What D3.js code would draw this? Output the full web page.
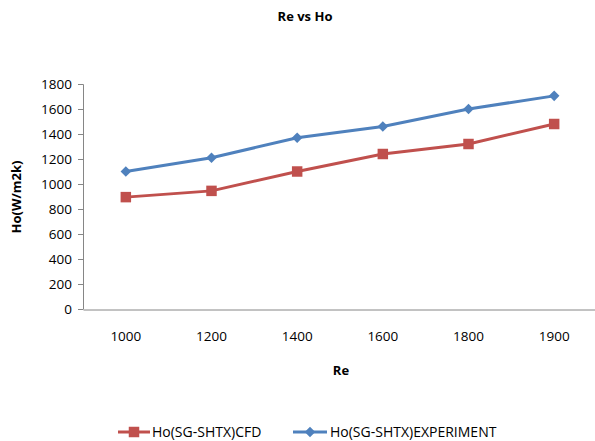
<!DOCTYPE html>
<html><head><meta charset="utf-8">
<script src="https://cdn.jsdelivr.net/npm/d3@7"></script>
<style>body{margin:0;background:#fff}svg{display:block}text{font-family:"Open Sans","Liberation Sans",Arial,sans-serif}</style>
</head><body>
<svg id="c" width="595" height="441"></svg>
<script>
const categories = ["1000","1200","1400","1600","1800","1900"];
const cfd = [895, 945, 1100, 1240, 1320, 1480];
const experiment = [1100, 1210, 1370, 1460, 1600, 1705];
const yTicks = [0,200,400,600,800,1000,1200,1400,1600,1800];
const seriesNames = ["Ho(SG-SHTX)CFD","Ho(SG-SHTX)EXPERIMENT"];

const svg = d3.select("#c");
const x = d3.scaleBand().domain(categories).range([83, 597]);
const y = d3.scaleLinear().domain([0,1800]).range([309, 84]);

// y axis
const ya = svg.append("g").attr("transform","translate(83,0)")
  .call(d3.axisLeft(y).tickValues(yTicks).tickFormat(d3.format("d")).tickSize(5).tickPadding(6));
ya.select(".domain").attr("stroke","#868686").attr("d","M-5,84.5H0.5V309.5");
ya.selectAll(".tick line").attr("stroke","#868686");
ya.selectAll(".tick text").attr("font-size",13.5).attr("fill","#000");
ya.attr("font-family",null);

// x axis
const xa = svg.append("g").attr("transform","translate(0,309.5)")
  .call(d3.axisBottom(x).tickSize(0).tickPadding(22));
xa.select(".domain").attr("stroke","#868686");
xa.selectAll(".tick text").attr("font-size",13.5).attr("fill","#000");
xa.attr("font-family",null);

const cx = c => x(c) + x.bandwidth()/2;
const line = d3.line().x((d,i)=>cx(categories[i])).y(d=>y(d));

const colR = "#c0504d", colB = "#4f81bd";
svg.append("path").datum(cfd).attr("d",line).attr("fill","none").attr("stroke",colR).attr("stroke-width",3);
svg.append("path").datum(experiment).attr("d",line).attr("fill","none").attr("stroke",colB).attr("stroke-width",3);

const sq = d3.symbol().type(d3.symbolSquare).size(110);
const dm = d3.symbol().type(d3.symbolSquare).size(56);
svg.selectAll(".r").data(cfd).join("path").attr("d",sq)
  .attr("transform",(d,i)=>`translate(${cx(categories[i])},${y(d)})`).attr("fill",colR);
svg.selectAll(".b").data(experiment).join("path").attr("d",dm)
  .attr("transform",(d,i)=>`translate(${cx(categories[i])},${y(d)}) rotate(45)`).attr("fill",colB);

// titles
svg.append("text").attr("x",305).attr("y",21).attr("text-anchor","middle").attr("font-size",13).attr("font-weight","bold").text("Re vs Ho");
svg.append("text").attr("x",341).attr("y",375).attr("text-anchor","middle").attr("font-size",13).attr("font-weight","bold").text("Re");
svg.append("text").attr("transform","translate(21,197) rotate(-90)").attr("text-anchor","middle").attr("font-size",13).attr("font-weight","bold").text("Ho(W/m2k)");

// legend
const lg = svg.append("g");
const ly = 432;
lg.append("line").attr("x1",118).attr("x2",150).attr("y1",ly).attr("y2",ly).attr("stroke",colR).attr("stroke-width",3);
lg.append("path").attr("d",sq).attr("transform",`translate(134,${ly})`).attr("fill",colR);
lg.append("text").attr("x",152).attr("y",ly+5).attr("font-size",14).text(seriesNames[0]);
lg.append("line").attr("x1",293).attr("x2",327).attr("y1",ly).attr("y2",ly).attr("stroke",colB).attr("stroke-width",3);
lg.append("path").attr("d",dm).attr("transform",`translate(310,${ly}) rotate(45)`).attr("fill",colB);
lg.append("text").attr("x",330).attr("y",ly+5).attr("font-size",14).text(seriesNames[1]);
</script>
</body></html>
